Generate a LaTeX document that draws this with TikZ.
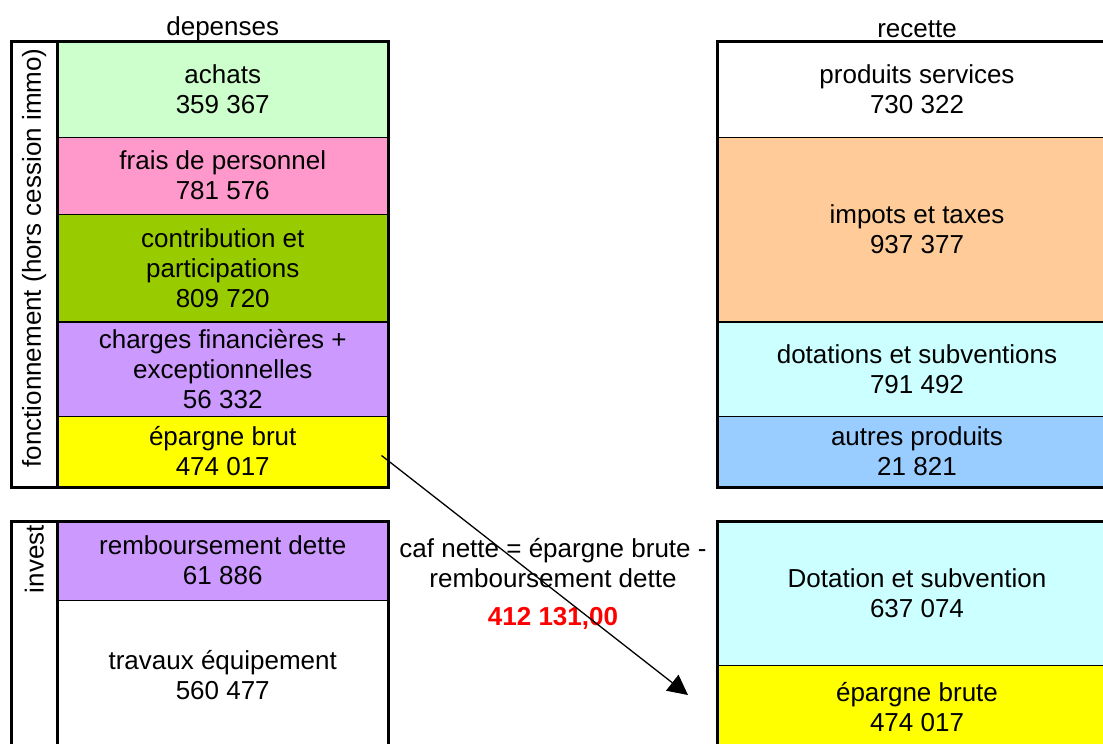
\documentclass[tikz,border=0pt]{standalone}
\usepackage{fontspec}
\setmainfont{Liberation Sans}
\usepackage{xcolor}
\usetikzlibrary{positioning,fit,arrows.meta}
\definecolor{achatgreen}{HTML}{CCFFCC}
\definecolor{fraispink}{HTML}{FF99CC}
\definecolor{contribgreen}{HTML}{99CC00}
\definecolor{chargelilac}{HTML}{CC99FF}
\definecolor{epyellow}{HTML}{FFFF00}
\definecolor{impotorange}{HTML}{FFCC99}
\definecolor{dotcyan}{HTML}{CCFFFF}
\definecolor{autreblue}{HTML}{99CCFF}
\tikzset{
	cellnode/.style={rectangle, draw=black, line width=1pt, outer sep=0pt, inner sep=0pt, minimum width=330.5pt, align=center},
	recnode/.style={cellnode, minimum width=400pt},
	sidenode/.style={rectangle, draw=black, line width=3pt, outer sep=0pt, minimum width=46.5pt},
	framenode/.style={draw=black, line width=3pt, inner sep=0pt, outer sep=0pt}
}

\begin{document}
\begin{tikzpicture}[x=1pt, y=-1pt, font=\fontsize{26}{30}\selectfont]
		\useasboundingbox (0,0) rectangle (1103,744);
		\clip (0,0) rectangle (1103,744);
		
		\node at (222.75,29) (dep) {depenses};
		\node at (917,29) (rec) {recette};
		
		%depenses fonctionnement
		\node[cellnode, fill=achatgreen, minimum height=96pt] at (222.75,89) (achats) {achats\\359 367};
		\node[cellnode, fill=fraispink, minimum height=77pt] at (222.75,175.5) (frais) {frais de personnel\\781 576};
		\node[cellnode, fill=contribgreen, minimum height=108pt] at (222.75,268) (contrib) {contribution et\\participations\\809 720};
		\node[cellnode, fill=chargelilac, minimum height=94pt] at (222.75,369) (charges) {charges financières +\\exceptionnelles\\56 332};
		\node[cellnode, fill=epyellow, minimum height=71pt] at (222.75,451.5) (epbrut) {épargne brut\\474 017};
		\node[sidenode, minimum height=446pt] at (34.25,264) (fside) {};
		\node[rotate=90] at (34.25,258) (fonclabel) {fonctionnement (hors cession immo)};
		
		%depenses invest
		\node[cellnode, fill=chargelilac, minimum height=79pt] at (222.75,560.5) (remb) {remboursement dette\\61 886};
		\node[cellnode, minimum height=150pt] at (222.75,675) (travaux) {travaux équipement\\560 477};
		\node[sidenode, minimum height=229pt] at (34.25,635.5) (iside) {};
		\node[rotate=90, anchor=east, inner sep=0pt] at (34.25,525) (invlabel) {invest};
		
		%recette fonctionnement
		\node[recnode, minimum height=96pt] at (917,89) (produits) {produits services\\730 322};
		\node[recnode, fill=impotorange, minimum height=185pt] at (917,229.5) (impots) {impots et taxes\\937 377};
		\node[recnode, fill=dotcyan, minimum height=94pt] at (917,369) (dotations) {dotations et subventions\\791 492};
		\node[recnode, fill=autreblue, minimum height=71pt] at (917,451.5) (autres) {autres produits\\21 821};
		
		%recette invest
		\node[recnode, fill=dotcyan, minimum height=144pt] at (917,593) (dotinv) {Dotation et subvention\\637 074};
		\node[recnode, fill=epyellow, minimum height=85pt] at (917,707.5) (eprec) {épargne brute\\474 017};
		
		%Lines
		\draw[line width=2pt] (contrib.south west) -- (contrib.south east);
		\draw[line width=2pt] (impots.south west) -- (impots.south east);
		
		\node[framenode, fit=(fside)(achats)(epbrut)] (fframe) {};
		\node[framenode, fit=(iside)(remb)(travaux)] (iframe) {};
		\node[framenode, fit=(produits)(autres)] (rframe) {};
		\node[framenode, fit=(dotinv)(eprec)] (riframe) {};
		
		\node[align=center] at (553,563) (cafnote) {caf nette = épargne brute -\\remboursement dette};
		\node[text=red, font=\fontsize{26}{30}\selectfont\bfseries] at (553,618) (caf) {412 131,00};
		
		\coordinate (cafstart) at (381.5,455.5);
		\coordinate (cafend) at (688,695);
		\draw[-{Triangle[length=20pt,width=20pt]}, line width=1.3pt] (cafstart) -- (cafend);
		
\end{tikzpicture}
\end{document}
